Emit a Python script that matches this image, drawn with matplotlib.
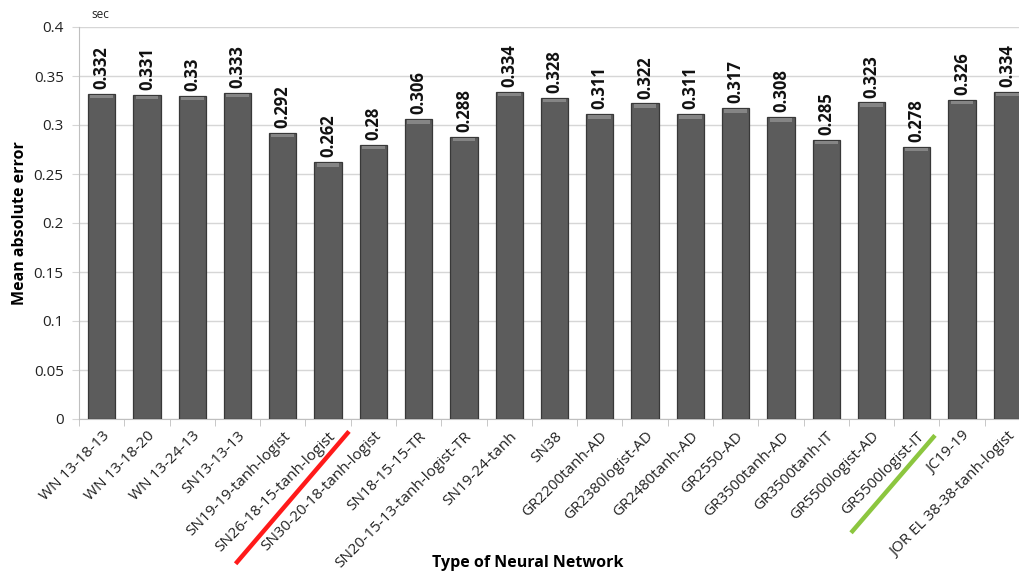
import matplotlib
matplotlib.use("Agg")
import matplotlib.pyplot as plt
import matplotlib.transforms as mtransforms
import numpy as np

categories = ["WN 13-18-13", "WN 13-18-20", "WN 13-24-13", "SN13-13-13",
              "SN19-19-tanh-logist", "SN26-18-15-tanh-logist", "SN30-20-18-tanh-logist",
              "SN18-15-15-TR", "SN20-15-13-tanh-logist-TR", "SN19-24-tanh", "SN38",
              "GR2200tanh-AD", "GR2380logist-AD", "GR2480tanh-AD", "GR2550-AD",
              "GR3500tanh-AD", "GR3500tanh-IT", "GR5500logist-AD", "GR5500logist-IT",
              "JC19-19", "JOR EL 38-38-tanh-logist"]
values = [0.332, 0.331, 0.33, 0.333, 0.292, 0.262, 0.28, 0.306, 0.288, 0.334, 0.328,
          0.311, 0.322, 0.311, 0.317, 0.308, 0.285, 0.323, 0.278, 0.326, 0.334]
value_labels = ["0.332", "0.331", "0.33", "0.333", "0.292", "0.262", "0.28", "0.306",
                "0.288", "0.334", "0.328", "0.311", "0.322", "0.311", "0.317", "0.308",
                "0.285", "0.323", "0.278", "0.326", "0.334"]
yticks = [0, 0.05, 0.1, 0.15, 0.2, 0.25, 0.3, 0.35, 0.4]
ytick_labels = ["0", "0.05", "0.1", "0.15", "0.2", "0.25", "0.3", "0.35", "0.4"]

plt.rcParams['font.family'] = ['Open Sans', 'DejaVu Sans']

W, H = 1019, 579
fig = plt.figure(figsize=(W / 100, H / 100), dpi=100)
left, right, bottom, top = 79, 1030, 419, 27
ax = fig.add_axes([left / W, 1 - bottom / H, (right - left) / W, (bottom - top) / H])

x = np.arange(len(categories))
bars = ax.bar(x, values, width=0.6, color="#5c5c5c", edgecolor="#383838", linewidth=0.9, zorder=3)
# subtle top bevel highlight
ax.bar(x, [0.0035] * len(x), bottom=np.array(values) - 0.0045, width=0.5,
       color="#858585", linewidth=0, zorder=4)

for xi, v, lab in zip(x, values, value_labels):
    ax.text(xi, v + 0.005, lab, rotation=90, ha="center", va="bottom",
            fontsize=12, fontweight="bold", color="#111111", zorder=5)

ax.set_xlim(-0.5, len(categories) - 0.5)
ax.set_ylim(0, 0.4)
ax.set_yticks(yticks)
ax.set_yticklabels(ytick_labels, fontsize=11, color="#222222")
ax.yaxis.grid(True, color="#d6d6d6", linewidth=1, zorder=0)
ax.set_axisbelow(True)

ax.set_xticks(x)
ax.set_xticklabels(categories, rotation=45, ha="right", rotation_mode="anchor",
                   fontsize=11, color="#222222")
ax.tick_params(axis="x", length=0, pad=7)
ax.set_xticks(np.arange(-0.5, len(categories), 1), minor=True)
ax.tick_params(axis="x", which="minor", length=5, color="#bfbfbf")
ax.tick_params(axis="y", length=5, color="#d6d6d6", pad=6)

for s in ["top", "right"]:
    ax.spines[s].set_visible(False)
ax.spines["left"].set_color("#bfbfbf")
ax.spines["bottom"].set_color("#bfbfbf")

ax.set_ylabel("Mean absolute error", fontsize=11.5, fontweight="bold", labelpad=4)
fig.text(528 / W, 1 - 563 / H, "Type of Neural Network", ha="center", va="center",
         fontsize=11.5, fontweight="bold")
fig.text(100 / W, 1 - 14 / H, "sec", ha="center", va="center", fontsize=8.5, color="#222222")

trans = mtransforms.blended_transform_factory(ax.transData, ax.transAxes)
ax.plot([2.99, 5.43], [-0.365, -0.036], color="#ff1a1a", linewidth=3.2,
        transform=trans, clip_on=False, zorder=6)
ax.plot([16.58, 18.37], [-0.286, -0.046], color="#8cc63f", linewidth=3.2,
        transform=trans, clip_on=False, zorder=6)

fig.savefig("out.png", dpi=100)
